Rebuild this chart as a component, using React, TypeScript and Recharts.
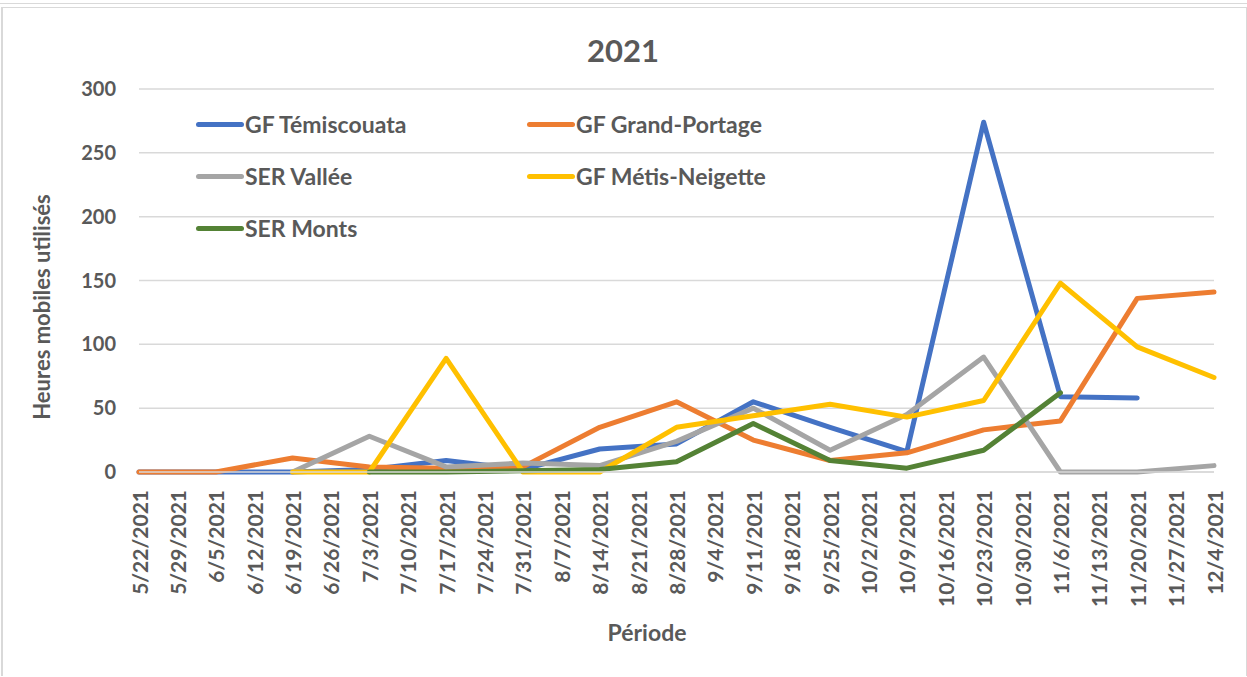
import { LineChart, Line, XAxis, YAxis, CartesianGrid } from "recharts";

const FONT = "Lato, 'DejaVu Sans', sans-serif";
const TEXT = "#595959";

// weekly axis, values every other week
const dates = [
  "5/22/2021", "5/29/2021", "6/5/2021", "6/12/2021", "6/19/2021", "6/26/2021",
  "7/3/2021", "7/10/2021", "7/17/2021", "7/24/2021", "7/31/2021", "8/7/2021",
  "8/14/2021", "8/21/2021", "8/28/2021", "9/4/2021", "9/11/2021", "9/18/2021",
  "9/25/2021", "10/2/2021", "10/9/2021", "10/16/2021", "10/23/2021", "10/30/2021",
  "11/6/2021", "11/13/2021", "11/20/2021", "11/27/2021", "12/4/2021",
];

const temiscouata = [0, null, 0, null, 0, null, 2, null, 9, null, 2, null, 18, null, 22, null, 55, null, 35, null, 16, null, 274, null, 59, null, 58, null, null];
const grandPortage = [0, null, 0, null, 11, null, 4, null, 3, null, 4, null, 35, null, 55, null, 25, null, 9, null, 15, null, 33, null, 40, null, 136, null, 141];
const vallee = [null, null, null, null, 0, null, 28, null, 4, null, 7, null, 5, null, 24, null, 50, null, 17, null, 45, null, 90, null, 0, null, 0, null, 5];
const metisNeigette = [null, null, null, null, 0, null, 0, null, 89, null, 0, null, 0, null, 35, null, 44, null, 53, null, 43, null, 56, null, 148, null, 98, null, 74];
const monts = [null, null, null, null, null, null, 0, null, 0, null, 1, null, 2, null, 8, null, 38, null, 9, null, 3, null, 17, null, 62, null, null, null, null];

const yTicks = [0, 50, 100, 150, 200, 250, 300];

const series = [
  { key: "tem", name: "GF Témiscouata", color: "#4472C4" },
  { key: "gp", name: "GF Grand-Portage", color: "#ED7D31" },
  { key: "val", name: "SER Vallée", color: "#A5A5A5" },
  { key: "mn", name: "GF Métis-Neigette", color: "#FFC000" },
  { key: "mon", name: "SER Monts", color: "#548235" },
];

const data = dates.map((d, i) => ({
  date: d,
  tem: temiscouata[i],
  gp: grandPortage[i],
  val: vallee[i],
  mn: metisNeigette[i],
  mon: monts[i],
}));

function DateTick(props: any) {
  const { x, y, payload } = props;
  return (
    <text
      x={x}
      y={y}
      transform={`rotate(-90, ${x}, ${y})`}
      textAnchor="end"
      dominantBaseline="central"
      fill={TEXT}
      fontFamily={FONT}
      fontWeight={700}
      fontSize={21}
    >
      {payload.value}
    </text>
  );
}

function LegendBox() {
  return (
    <div
      style={{
        position: "absolute",
        left: 196,
        top: 98,
        display: "grid",
        gridTemplateColumns: "331px 331px",
        fontFamily: FONT,
        fontWeight: 700,
        fontSize: 23,
        color: TEXT,
        zIndex: 2,
      }}
    >
      {series.map((s) => (
        <div key={s.key} style={{ display: "flex", alignItems: "center", height: 52 }}>
          <span
            style={{
              display: "inline-block",
              width: 48,
              height: 5,
              borderRadius: 3,
              background: s.color,
              marginRight: 1,
            }}
          />
          <span>{s.name}</span>
        </div>
      ))}
    </div>
  );
}

export default function App() {
  return (
    <div
      style={{
        position: "absolute",
        left: 0,
        top: 0,
        width: 1247,
        height: 677,
        background: "#fff",
        overflow: "hidden",
      }}
    >
      <div style={{ position: "absolute", left: 0, top: 3, width: 1247, height: 1, background: "#d9d9d9" }} />
      <div style={{ position: "absolute", left: 1, top: 7, width: 1243, height: 668, borderTop: "1px solid #d9d9d9", borderLeft: "2px solid #d9d9d9", borderRight: "1px solid #d9d9d9" }} />
      <div
        style={{
          position: "absolute",
          left: 523,
          top: 31,
          width: 200,
          textAlign: "center",
          fontFamily: FONT,
          fontWeight: 700,
          fontSize: 31,
          color: TEXT,
        }}
      >
        2021
      </div>
      <div
        style={{
          position: "absolute",
          left: 547,
          top: 618,
          width: 200,
          textAlign: "center",
          fontFamily: FONT,
          fontWeight: 700,
          fontSize: 23,
          color: TEXT,
        }}
      >
        Période
      </div>
      <div
        style={{
          position: "absolute",
          left: 42 - 150,
          top: 307 - 15,
          width: 300,
          height: 30,
          lineHeight: "30px",
          textAlign: "center",
          transform: "rotate(-90deg)",
          fontFamily: FONT,
          fontWeight: 700,
          fontSize: 22,
          color: TEXT,
        }}
      >
        Heures mobiles utilisés
      </div>
      <LegendBox />
      <div style={{ position: "absolute", left: 0, top: 0 }}>
        <LineChart
          width={1247}
          height={677}
          data={data}
          margin={{ top: 89, right: 33, bottom: 75, left: 0 }}
        >
          <CartesianGrid vertical={false} stroke="#d9d9d9" strokeWidth={1.5} />
          <XAxis
            dataKey="date"
            interval={0}
            axisLine={{ stroke: "#d9d9d9", strokeWidth: 1.5 }}
            tickLine={false}
            tickSize={0}
            tickMargin={18}
            height={130}
            tick={<DateTick />}
          />
          <YAxis
            domain={[0, 300]}
            ticks={yTicks}
            axisLine={false}
            tickLine={false}
            tickSize={0}
            tickMargin={23}
            width={139}
            tick={{ fill: TEXT, fontFamily: FONT, fontWeight: 700, fontSize: 20 }}
          />
          {series.map((s) => (
            <Line
              key={s.key}
              type="linear"
              dataKey={s.key}
              name={s.name}
              stroke={s.color}
              strokeWidth={5}
              strokeLinecap="round"
              strokeLinejoin="round"
              dot={false}
              activeDot={false}
              connectNulls
              isAnimationActive={false}
            />
          ))}
        </LineChart>
      </div>
    </div>
  );
}
